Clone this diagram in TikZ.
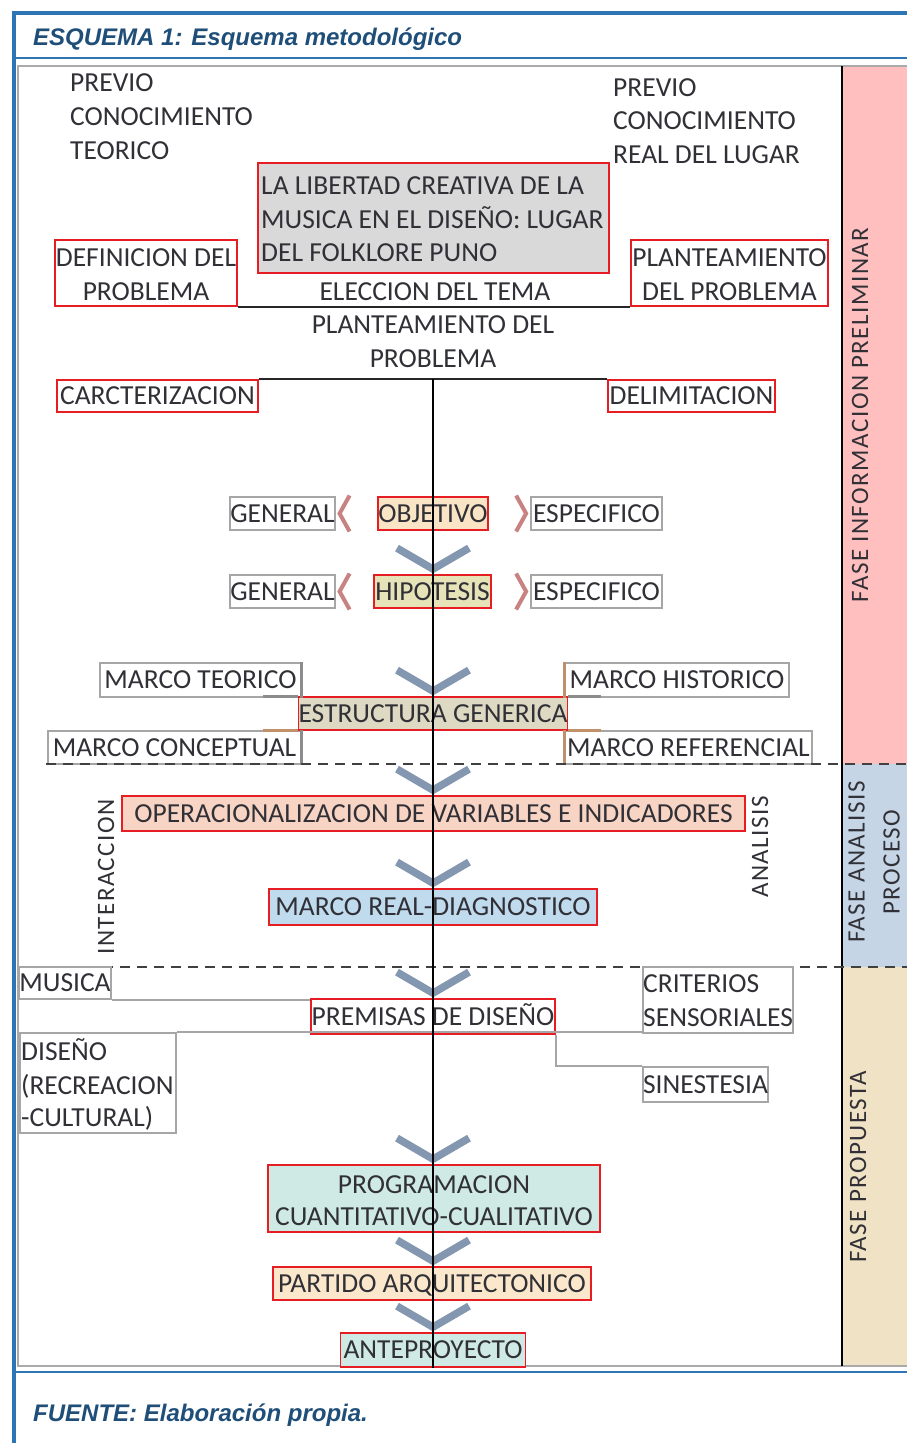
\documentclass[tikz,border=0pt]{standalone}
\usepackage{fontspec}
\setmainfont{Carlito}
\newfontfamily\titlefont{Liberation Sans}
\newfontfamily\barfont{Carlito}[LetterSpace=6]
\usetikzlibrary{calc}
\definecolor{blueframe}{RGB}{46,117,182}
\definecolor{titleblue}{RGB}{31,78,121}
\definecolor{framegray}{RGB}{170,170,170}
\definecolor{pinkbar}{RGB}{255,191,191}
\definecolor{bluebar}{RGB}{197,213,229}
\definecolor{tanbar}{RGB}{240,226,196}
\definecolor{txtcol}{RGB}{48,48,54}
\definecolor{boxred}{RGB}{230,30,35}
\definecolor{gboxc}{RGB}{166,166,166}
\definecolor{chevc}{RGB}{132,151,176}
\definecolor{schevc}{RGB}{200,130,130}
\definecolor{brownc}{RGB}{192,144,106}
\definecolor{darkgc}{RGB}{140,140,140}
\definecolor{fgray}{RGB}{217,217,217}
\definecolor{fobj}{RGB}{249,228,197}
\definecolor{fhip}{RGB}{229,227,183}
\definecolor{fest}{RGB}{221,217,195}
\definecolor{foper}{RGB}{248,212,196}
\definecolor{freal}{RGB}{192,218,238}
\definecolor{fteal}{RGB}{207,234,228}
\definecolor{fpart}{RGB}{251,232,204}
\tikzset{
  txt/.style={font=\fontsize{27.5}{34}\selectfont, text=txtcol, inner sep=0pt},
  rbox/.style={txt, draw=boxred, line width=1.8pt, text height=17.7pt, text depth=0pt},
  gbox/.style={txt, draw=gboxc, line width=1.8pt, text height=17.7pt, text depth=0pt},
  chev/.style={draw=chevc, line width=7.5pt},
  schev/.style={draw=schevc, line width=4pt},
  hline/.style={draw=black!85, line width=2pt},
  gcon/.style={draw=gboxc, line width=1.8pt},
  gstub/.style={draw=darkgc, line width=3pt},
  bstub/.style={draw=brownc, line width=3pt},
  dashsep/.style={draw=black!75, line width=2.5pt, dash pattern=on 10pt off 7pt},
  vtxt/.style={font=\barfont\fontsize{25}{35}\selectfont, rotate=90, text=txtcol, inner sep=0pt, align=center},
  ttl/.style={font=\titlefont\bfseries\itshape\fontsize{24}{28}\selectfont, text=titleblue, inner sep=0pt, anchor=base west}
}
\begin{document}
\begin{tikzpicture}[x=1pt,y=-1pt]
\useasboundingbox (0,0) rectangle (907,1443);
\fill[white] (0,0) rectangle (907,1443);
% phase bars
\fill[pinkbar] (843,66) rectangle (907,764);
\fill[bluebar] (843,764) rectangle (907,967);
\fill[tanbar] (843,967) rectangle (907,1366);
% inner frame
\draw[framegray, line width=2pt] (907,66) -- (18,66) -- (18,1366) -- (907,1366);
\draw[black, line width=2pt] (842,66) -- (842,1366);
% blue frame
\draw[blueframe, line width=3.5pt] (14,1443) -- (14,13) -- (907,13);
\draw[blueframe, line width=2.5pt] (14,58) -- (907,58);
\draw[blueframe, line width=2.5pt] (14,1372) -- (907,1372);
% title and source
\node[ttl] (title) at (33,45) {ESQUEMA 1: Esquema metodológico};
\node[ttl] (fuente) at (33,1421) {FUENTE: Elaboración propia.};
% phase labels
\node[vtxt] (f1) at (860,415) {FASE INFORMACION PRELIMINAR};
\node[vtxt] (f2) at (874,862) {FASE ANALISIS\\PROCESO};
\node[vtxt] (f3) at (858,1167) {FASE PROPUESTA};
\node[vtxt] (inter) at (106,877) {INTERACCION};
\node[vtxt] (anal) at (760,847) {ANALISIS};
% top texts
\node[txt, anchor=base west] (pt1) at (70,91) {PREVIO};
\node[txt, anchor=base west] (pt2) at (70,125) {CONOCIMIENTO};
\node[txt, anchor=base west] (pt3) at (70,159) {TEORICO};
\node[txt, anchor=base west] (pr1) at (613,96) {PREVIO};
\node[txt, anchor=base west] (pr2) at (613,129) {CONOCIMIENTO};
\node[txt, anchor=base west] (pr3) at (613,163) {REAL DEL LUGAR};
% theme box
\node[rbox, fill=fgray, minimum width=351pt, minimum height=110pt] (tema) at (433.5,218) {};
\node[txt, anchor=base west] (tema1) at (261,194.7) {LA LIBERTAD CREATIVA DE LA};
\node[txt, anchor=base west] (tema2) at (261,228.7) {MUSICA EN EL DISEÑO: LUGAR};
\node[txt, anchor=base west] (tema3) at (261,261.7) {DEL FOLKLORE PUNO};
% definicion / planteamiento
\node[rbox, minimum width=182pt, minimum height=66pt] (def) at (146,273) {};
\node[txt, anchor=base] (def1) at (146,266.7) {DEFINICION DEL};
\node[txt, anchor=base] (def2) at (146,300.7) {PROBLEMA};
\node[rbox, minimum width=197pt, minimum height=66pt] (plan) at (729.5,273) {};
\node[txt, anchor=base] (plan1) at (729.5,266.7) {PLANTEAMIENTO};
\node[txt, anchor=base] (plan2) at (729.5,300.7) {DEL PROBLEMA};
\node[txt, anchor=base] (elec) at (435,300.7) {ELECCION DEL TEMA};
\node[txt, anchor=base] (pp1) at (433,333.7) {PLANTEAMIENTO DEL};
\node[txt, anchor=base] (pp2) at (433,367.7) {PROBLEMA};
\draw[hline] (def.south east) -- (plan.south west);
% caracterizacion / delimitacion
\node[rbox, minimum width=201pt, minimum height=32pt] (car) at (157.5,396) {CARCTERIZACION};
\node[rbox, minimum width=167pt, minimum height=32pt] (del) at (691.5,396) {DELIMITACION};
\draw[hline] (car.north east) -- (del.north west);
\coordinate (vtop) at (433,379);
% objetivo row
\node[gbox, minimum width=103pt, minimum height=33pt] (gen1) at (282.5,513.5) {GENERAL};
\node[rbox, fill=fobj, minimum width=110pt, minimum height=33pt] (obj) at (433,513.5) {OBJETIVO};
\node[gbox, minimum width=131pt, minimum height=33pt] (esp1) at (596.5,513.5) {ESPECIFICO};
% hipotesis row
\node[gbox, minimum width=103pt, minimum height=33pt] (gen2) at (282.5,591.5) {GENERAL};
\node[rbox, fill=fhip, minimum width=117pt, minimum height=33pt] (hip) at (432.5,591.5) {HIPOTESIS};
\node[gbox, minimum width=131pt, minimum height=33pt] (esp2) at (596.5,591.5) {ESPECIFICO};
\foreach \g/\e in {gen1/esp1, gen2/esp2}{
  \draw[schev] ($(\g.east)+(14,-18)$) -- ($(\g.east)+(4,0)$) -- ($(\g.east)+(14,18)$);
  \draw[schev] ($(\e.west)+(-14,-18)$) -- ($(\e.west)+(-4,0)$) -- ($(\e.west)+(-14,18)$);
}
% estructura generica
\node[gbox, minimum width=201pt, minimum height=34pt] (mteo) at (200.5,680) {MARCO TEORICO};
\node[gbox, minimum width=224pt, minimum height=34pt] (mhis) at (677,680) {MARCO HISTORICO};
\node[gbox, minimum width=253pt, minimum height=33pt] (mcon) at (174.5,747.5) {MARCO CONCEPTUAL};
\node[gbox, minimum width=247pt, minimum height=33pt] (mref) at (688.5,747.5) {MARCO REFERENCIAL};
\node[rbox, fill=fest, minimum width=268pt, minimum height=33pt] (est) at (433,713.5) {ESTRUCTURA GENERICA};
\draw[gstub] (est.north west) -- ++(-35,0);
\draw[bstub] (est.south west) -- ++(-35,0);
\draw[gstub] (est.north east) -- ++(33,0);
\draw[bstub] (est.south east) -- ++(33,0);
\draw[bstub] (mhis.north west) -- (mhis.south west);
\draw[bstub] (mref.north west) -- (mref.south west);
\draw[gstub] (mteo.north east) -- (mteo.south east);
\draw[gstub] (mcon.north east) -- (mcon.south east);
% dashed separators
\draw[dashsep] (46,764) -- (907,764);
\draw[dashsep] (18,967) -- (907,967);
% analysis phase
\node[rbox, fill=foper, minimum width=623pt, minimum height=35pt] (oper) at (433.5,813.5) {OPERACIONALIZACION DE VARIABLES E INDICADORES};
\node[rbox, fill=freal, minimum width=328pt, minimum height=36pt] (real) at (433,907) {MARCO REAL-DIAGNOSTICO};
% proposal phase
\node[gbox, minimum width=90pt, minimum height=32pt] (mus) at (65,983) {MUSICA};
\node[gbox, minimum width=150pt, minimum height=66pt] (crit) at (718,1000) {};
\node[txt, anchor=base west] (crit1) at (643,992.7) {CRITERIOS};
\node[txt, anchor=base west] (crit2) at (643,1026.7) {SENSORIALES};
\node[rbox, fill=white, minimum width=244pt, minimum height=35pt] (prem) at (433,1016.5) {PREMISAS DE DISEÑO};
\node[gbox, minimum width=156pt, minimum height=100pt] (dis) at (98,1083) {};
\node[txt, anchor=base west] (dis1) at (21,1060.7) {DISEÑO};
\node[txt, anchor=base west] (dis2) at (21,1094.7) {(RECREACION};
\node[txt, anchor=base west] (dis3) at (21,1126.7) {-CULTURAL)};
\node[gbox, minimum width=125pt, minimum height=35pt] (sin) at (705.5,1084.5) {SINESTESIA};
\draw[gcon] (mus.south east) -- (mus.south east -| prem.west);
\draw[gcon] (dis.north east) -- (dis.north east -| crit.west);
\draw[gcon] (prem.south east) |- (sin.north west);
\node[rbox, fill=fteal, minimum width=332pt, minimum height=67pt] (prog) at (434,1198.5) {};
\node[txt, anchor=base] (prog1) at (434,1193.7) {PROGRAMACION};
\node[txt, anchor=base] (prog2) at (434,1225.7) {CUANTITATIVO-CUALITATIVO};
\node[rbox, fill=fpart, minimum width=318pt, minimum height=33pt] (part) at (432,1283.5) {PARTIDO ARQUITECTONICO};
\node[rbox, fill=fteal, minimum width=185pt, minimum height=34pt] (ante) at (433,1350) {ANTEPROYECTO};
% down chevrons
\foreach \b in {hip, est, oper, real, prem, prog, part, ante}{
  \draw[chev] ($(\b.north -| vtop)+(-36,-26)$) -- ($(\b.north -| vtop)+(0,-5)$) -- ($(\b.north -| vtop)+(36,-26)$);
}
% central axis
\draw[black, line width=1.8pt] (vtop) -- (ante.south -| vtop);
\end{tikzpicture}
\end{document}
